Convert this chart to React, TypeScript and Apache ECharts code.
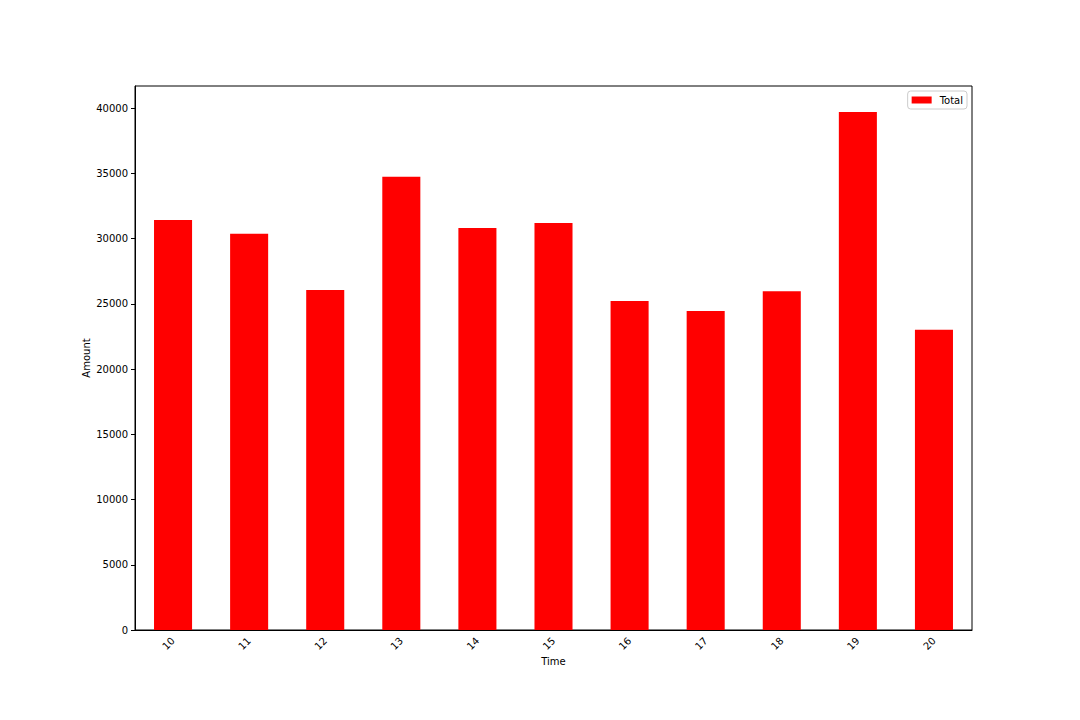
import React, { useEffect, useRef } from "react";
import * as echarts from "echarts";

const categories = ["10", "11", "12", "13", "14", "15", "16", "17", "18", "19", "20"];
const totals = [31440, 30370, 26060, 34740, 30820, 31200, 25220, 24450, 25980, 39720, 23020];
const yTicks = [0, 5000, 10000, 15000, 20000, 25000, 30000, 35000, 40000];

export default function App() {
  const ref = useRef<HTMLDivElement>(null);
  useEffect(() => {
    if (!ref.current) return;
    const chart = echarts.init(ref.current, null, { renderer: "svg" });
    const font = "DejaVu Sans";
    const maxVal = Math.max(...totals) * 1.05;
    chart.setOption({
      animation: false,
      textStyle: { fontFamily: font },
      legend: {
        data: [{ name: "Total", icon: "rect" }],
        right: 113,
        top: 91,
        itemWidth: 20,
        itemHeight: 7,
        itemGap: 6,
        padding: [4, 4, 4, 4],
        borderColor: "#cccccc",
        borderWidth: 1,
        borderRadius: 3,
        textStyle: { fontFamily: font, fontSize: 10, color: "#000", padding: [0, 0, 0, 3] },
      },
      grid: {
        left: 135,
        right: 108,
        top: 86,
        bottom: 90,
        show: true,
        borderColor: "#000",
        borderWidth: 1,
        backgroundColor: "transparent",
      },
      xAxis: {
        type: "category",
        data: categories,
        name: "Time",
        nameLocation: "middle",
        nameGap: 26,
        nameMoveOverlap: false,
        nameTextStyle: { fontFamily: font, fontSize: 10, color: "#000" },
        axisLine: { lineStyle: { color: "#000", width: 1 } },
        axisTick: { alignWithLabel: true, length: 4, lineStyle: { color: "#000" } },
        axisLabel: { rotate: 45, fontFamily: font, fontSize: 10, color: "#000", margin: 9 },
      },
      yAxis: {
        type: "value",
        min: 0,
        max: maxVal,
        interval: 5000,
        name: "Amount",
        nameLocation: "middle",
        nameGap: 44,
        nameMoveOverlap: false,
        nameTextStyle: { fontFamily: font, fontSize: 10, color: "#000" },
        splitLine: { show: false },
        axisLine: { show: true, lineStyle: { color: "#000", width: 1 } },
        axisTick: { show: true, length: 4, lineStyle: { color: "#000" }, customValues: yTicks },
        axisLabel: {
          fontFamily: font,
          fontSize: 10,
          color: "#000",
          margin: 7,
          customValues: yTicks,
          formatter: (v: number) => String(v),
        },
      },
      series: [
        {
          name: "Total",
          type: "bar",
          data: totals,
          barWidth: "50%",
          itemStyle: { color: "#ff0000" },
        },
      ],
    });
    return () => chart.dispose();
  }, []);
  return <div ref={ref} style={{ width: 1080, height: 720, margin: -8 }} />;
}
